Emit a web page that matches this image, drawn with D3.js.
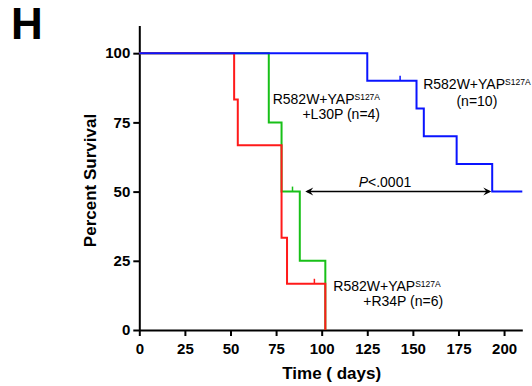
<!DOCTYPE html>
<html>
<head>
<meta charset="utf-8">
<script src="https://cdn.jsdelivr.net/npm/d3@7"></script>
<style>
  body { margin: 0; background: #fff; }
  svg { display: block; font-family: Arial, "Liberation Sans", sans-serif; }
</style>
</head>
<body>
<div id="chart"></div>
<script>
// survival steps (days, percent)
const redTimes = [0, 52, 54, 78, 81, 102];
const redSurv = [100, 83.3, 66.7, 33.3, 16.7, 0];
const redCensor = [96];
const redCensorSurv = [16.7];

const greenTimes = [0, 71, 78, 88, 102];
const greenSurv = [100, 75, 50, 25, 0];
const greenCensor = [84];
const greenCensorSurv = [50];

const blueTimes = [0, 125, 152, 156, 174, 193.5, 210];
const blueSurv = [100, 90, 80, 70, 60, 50, 50];
const blueCensor = [143];
const blueCensorSurv = [90];

const xTicks = [0, 25, 50, 75, 100, 125, 150, 175, 200];
const yTicks = [0, 25, 50, 75, 100];

const arrowDays = [91, 193];
const arrowSurv = 50;

const width = 532, height = 386;
const margin = {top: 25.5, right: 9.7, bottom: 56, left: 139.3};

const svg = d3.select("#chart").append("svg")
    .attr("width", width)
    .attr("height", height);

const x = d3.scaleLinear()
  .domain([0, 210])
  .range([margin.left, width - margin.right]);

const y = d3.scaleLinear()
  .domain([0, 110])
  .range([height - margin.bottom, margin.top]);

// axes
const xAxis = svg.append("g")
  .attr("transform", `translate(0,${y(0)})`)
  .call(d3.axisBottom(x).tickValues(xTicks).tickSize(6).tickPadding(7).tickSizeOuter(0));

const yAxis = svg.append("g")
  .attr("transform", `translate(${x(0)},0)`)
  .call(d3.axisLeft(y).tickValues(yTicks).tickSize(6).tickPadding(3).tickSizeOuter(0));

[xAxis, yAxis].forEach(g => {
  g.select(".domain").attr("stroke", "#000").attr("stroke-width", 2);
  g.selectAll(".tick line").attr("stroke", "#000").attr("stroke-width", 2);
  g.selectAll(".tick text")
    .attr("fill", "#000")
    .style("font-size", "15px")
    .style("font-weight", "bold")
    .style("font-family", "Arial, 'Liberation Sans', sans-serif");
});

// survival curves
const line = d3.line()
  .x(d => x(d[0]))
  .y(d => y(d[1]))
  .curve(d3.curveStepAfter);

const series = [
  {times: greenTimes, surv: greenSurv, censor: greenCensor, censorSurv: greenCensorSurv, color: "#18c018"},
  {times: redTimes, surv: redSurv, censor: redCensor, censorSurv: redCensorSurv, color: "#ff1a1a"},
  {times: blueTimes, surv: blueSurv, censor: blueCensor, censorSurv: blueCensorSurv, color: "#0a14ff"}
];

series.forEach(s => {
  const pts = s.times.map((t, i) => [t, s.surv[i]]);
  svg.append("path")
    .datum(pts)
    .attr("fill", "none")
    .attr("stroke", s.color)
    .attr("stroke-width", 2)
    .attr("d", line);

  // censor marks
  s.censor.forEach((c, i) => {
    svg.append("line")
      .attr("x1", x(c)).attr("x2", x(c))
      .attr("y1", y(s.censorSurv[i]) - 5)
      .attr("y2", y(s.censorSurv[i]))
      .attr("stroke", s.color)
      .attr("stroke-width", 1.5);
  });
});

// double arrow between medians
const ay = y(arrowSurv);
const ax0 = x(arrowDays[0]), ax1 = x(arrowDays[1]);
svg.append("line")
  .attr("x1", ax0 + 2).attr("x2", ax1 - 2)
  .attr("y1", ay).attr("y2", ay)
  .attr("stroke", "#000")
  .attr("stroke-width", 1.5);
svg.append("path")
  .attr("d", `M${ax0},${ay} L${ax0 + 8},${ay - 4} L${ax0 + 5},${ay} L${ax0 + 8},${ay + 4} Z`)
  .attr("fill", "#000");
svg.append("path")
  .attr("d", `M${ax1},${ay} L${ax1 - 8},${ay - 4} L${ax1 - 5},${ay} L${ax1 - 8},${ay + 4} Z`)
  .attr("fill", "#000");

const pText = svg.append("text")
  .attr("x", x(134.7))
  .attr("y", y(51.7))
  .attr("text-anchor", "middle")
  .style("font-size", "14px");
pText.append("tspan").style("font-style", "italic").text("P");
pText.append("tspan").text("<.0001");

// group labels
function genoLabel(dx, dy, anchor) {
  const t = svg.append("text")
    .attr("x", dx)
    .attr("y", dy)
    .attr("text-anchor", anchor)
    .style("font-size", "14px");
  t.append("tspan").text("R582W+YAP");
  t.append("tspan").attr("dy", -4).style("font-size", "8.5px").text("S127A");
  return t;
}

genoLabel(x(132), y(81.6), "end");
svg.append("text")
  .attr("x", x(132)).attr("y", y(76.2))
  .attr("text-anchor", "end")
  .style("font-size", "14px")
  .text("+L30P (n=4)");

genoLabel(x(185.1), y(87.0), "middle");
svg.append("text")
  .attr("x", x(185.1)).attr("y", y(81.1))
  .attr("text-anchor", "middle")
  .style("font-size", "14px")
  .text("(n=10)");

genoLabel(x(106.4), y(14.1), "start");
svg.append("text")
  .attr("x", x(122.8)).attr("y", y(8.7))
  .attr("text-anchor", "start")
  .style("font-size", "14px")
  .text("+R34P (n=6)");

// axis titles
svg.append("text")
  .attr("transform", `translate(96,180.5) rotate(-90)`)
  .attr("text-anchor", "middle")
  .style("font-size", "17px")
  .style("font-weight", "bold")
  .text("Percent Survival");

svg.append("text")
  .attr("x", 331.7)
  .attr("y", 379)
  .attr("text-anchor", "middle")
  .style("font-size", "17px")
  .style("font-weight", "bold")
  .text("Time ( days)");

// panel letter
svg.append("text")
  .attr("x", 11)
  .attr("y", 39)
  .style("font-size", "44px")
  .style("font-weight", "bold")
  .text("H");
</script>
</body>
</html>
